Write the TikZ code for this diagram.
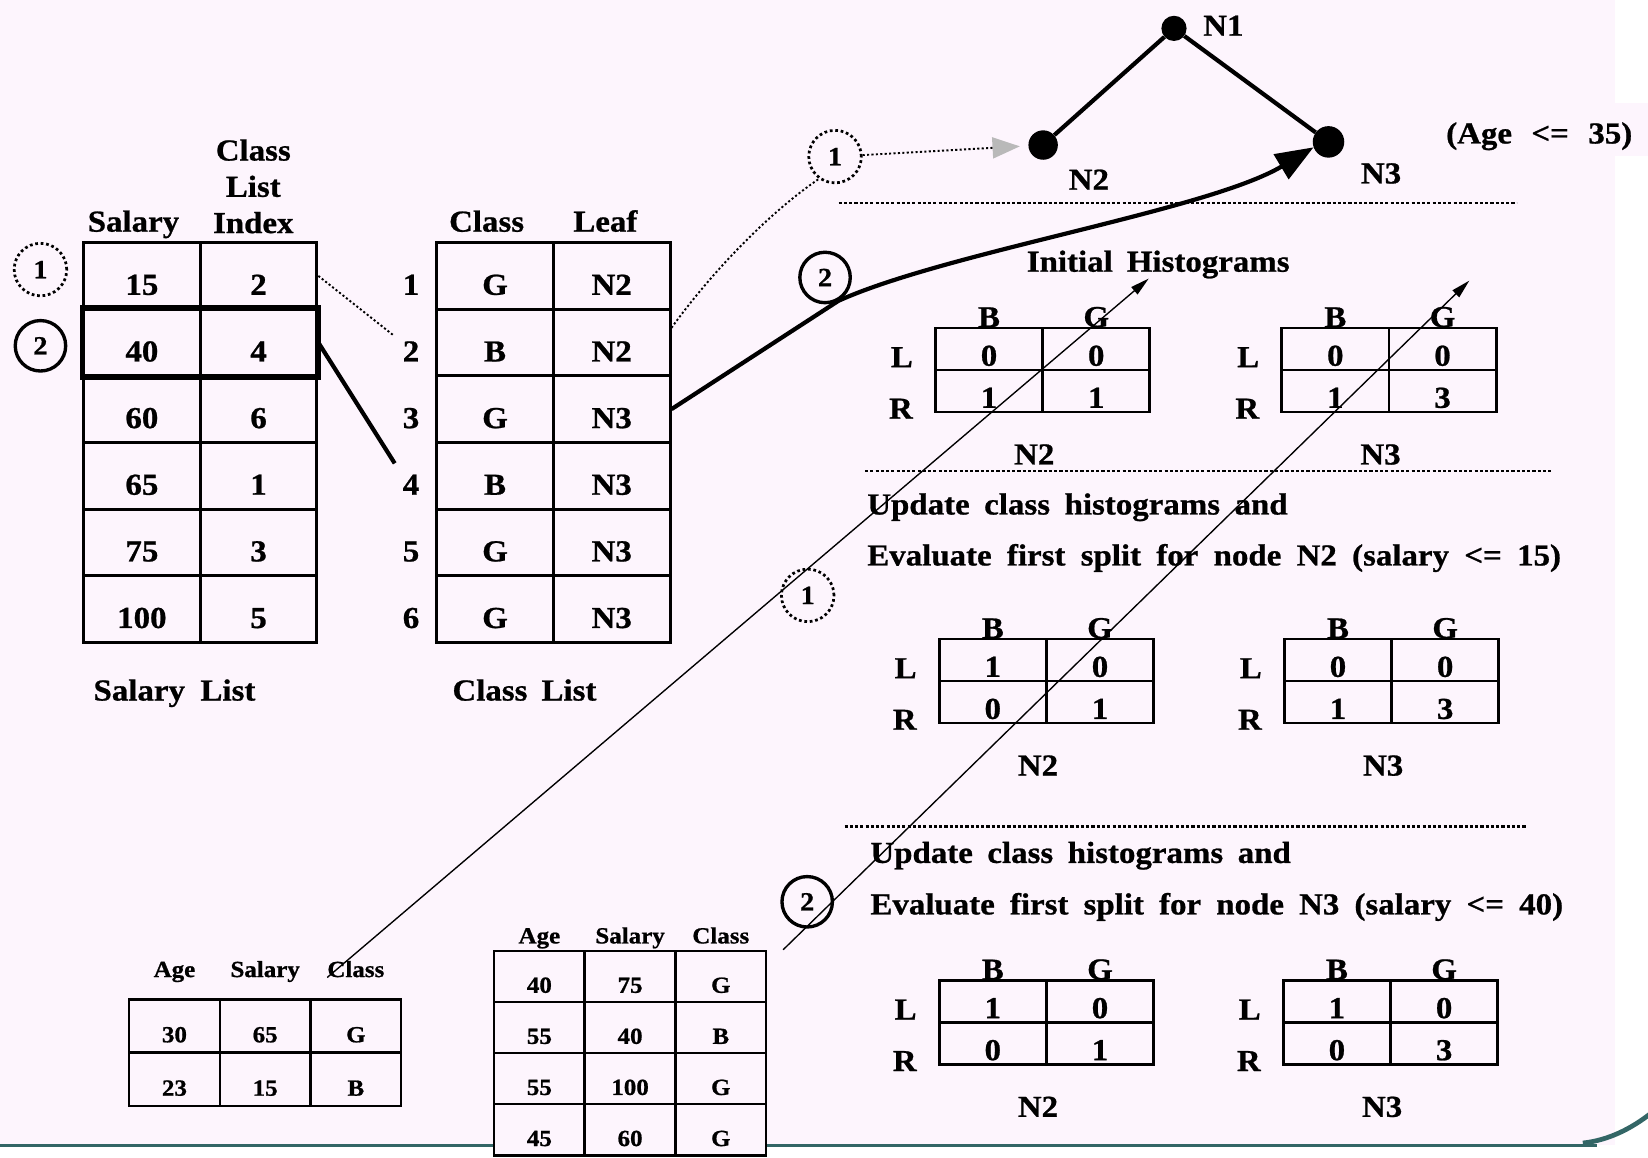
\documentclass[tikz,border=0pt]{standalone}
\usepackage{fontspec}
\setmainfont{Liberation Serif}[FakeStretch=1.08, BoldFeatures={FakeBold=0.8}]
\usetikzlibrary{arrows.meta,matrix,positioning}

\definecolor{slidepink}{RGB}{253,245,253}
\definecolor{slideteal}{RGB}{51,102,102}

\tikzset{
  txt/.style={font=\bfseries\fontsize{29}{34.5}\selectfont, inner sep=0pt},
  sml/.style={font=\bfseries\fontsize{22}{27}\selectfont, inner sep=0pt},
  num/.style={txt, text height=36pt, text depth=0pt},
  cell/.style={num, draw, line width=2.8pt, minimum width=111pt, minimum height=63.4pt},
  lst/.style={matrix of nodes, nodes={cell}, column sep=-2.8pt, row sep=-2.8pt, inner sep=0pt},
  hcell/.style={txt, draw, line width=2.6pt, minimum width=102pt, minimum height=40pt, text height=32pt, text depth=0pt},
  hist/.style={matrix of nodes, nodes={hcell}, column sep=-2.6pt, row sep=-2.6pt, inner sep=0pt},
  bcell/.style={sml, draw, fill=slidepink, line width=2.4pt, minimum width=86.3pt, minimum height=50.8pt, text height=31pt, text depth=0pt},
  part/.style={matrix of nodes, nodes={bcell}, column sep=-2.4pt, row sep=-2.4pt, inner sep=0pt},
  passone/.style={txt, font=\bfseries\fontsize{25}{30}\selectfont, circle, draw, line width=2.6pt, dash pattern=on 2.6pt off 2.6pt, minimum size=50pt},
  passtwo/.style={txt, font=\bfseries\fontsize{25}{30}\selectfont, circle, draw, line width=3.2pt, minimum size=48pt},
  dot/.style={circle, fill, inner sep=0pt},
  sepline/.style={line width=2.2pt, dash pattern=on 3pt off 2pt},
  dotlink/.style={line width=1.8pt, dash pattern=on 2pt off 2.2pt},
  link/.style={line width=1.3pt, -{Triangle[length=18pt,width=9pt]}},
}

\begin{document}
\begin{tikzpicture}[x=1pt, y=-1pt]
  \useasboundingbox (0,0) rectangle (1568,1101);
  \fill[slidepink] (0,0) rectangle (1536.5,1089);
  \fill[slidepink] (1536,98) rectangle (1568,148);
  \draw[slideteal, line width=3pt] (0,1089.5) -- (1519,1089.5);
  \draw[slideteal, line width=4.5pt] (1506,1087.5) .. controls (1530,1085) and (1552,1074) .. (1571,1059);

  \matrix[lst] (sal) at (190.5,421) {15 & 2\\ 40 & 4\\ 60 & 6\\ 65 & 1\\ 75 & 3\\ 100 & 5\\};
  \draw[line width=4.5pt] (sal-2-1.north west) rectangle (sal-2-2.south east);
  \node[txt, anchor=base] (sal-h1) at ([xshift=-8pt,yshift=9pt]sal-1-1.north) {Salary};
  \node[txt, anchor=north, align=center] (sal-h2) at ([xshift=-5pt,yshift=97pt]sal-1-2.north) {Class\\List\\Index};
  \node[txt, anchor=base] (sal-cap) at (166,666.5) {\makebox[154pt][s]{Salary List}};
  \node[passone] (p1-list) at (38.5,256.5) {1};
  \node[passtwo] (p2-list) at (38.5,329) {2};

  \matrix[lst] (cls) at (526.5,421) {G & N2\\ B & N2\\ G & N3\\ B & N3\\ G & N3\\ G & N3\\};
  \node[txt, anchor=base] (cls-h1) at ([xshift=-8pt,yshift=9pt]cls-1-1.north) {Class};
  \node[txt, anchor=base] (cls-h2) at ([xshift=-6pt,yshift=9pt]cls-1-2.north) {Leaf};
  \node[txt, anchor=base] (cls-cap) at (499,666.5) {\makebox[137pt][s]{Class List}};
  \node[num, left=15pt of cls-1-1] (row1) {1};
  \node[num, left=15pt of cls-2-1] (row2) {2};
  \node[num, left=15pt of cls-3-1] (row3) {3};
  \node[num, left=15pt of cls-4-1] (row4) {4};
  \node[num, left=15pt of cls-5-1] (row5) {5};
  \node[num, left=15pt of cls-6-1] (row6) {6};
  \draw[dotlink, shorten >=12pt] (sal-1-2.east) -- (row2.west);
  \draw[line width=4pt, shorten >=14pt] (sal-2-2.east) -- (row4.west);

  \node[dot, minimum size=24pt] (n1) at (1117,27) {};
  \node[dot, minimum size=28pt] (n2) at (992.5,138) {};
  \node[dot, minimum size=30pt] (n3) at (1264,135) {};
  \draw[line width=4pt] (n2) -- (n1) -- (n3);
  \node[txt, anchor=base] (n1-lab) at (1164,34) {N1};
  \node[txt, anchor=base] (n2-lab) at (1036,180.5) {N2};
  \node[txt, anchor=base] (n3-lab) at (1314,174.5) {N3};
  \node[txt, anchor=base] (split) at (1464.5,136.5) {\makebox[177pt][s]{(Age <= 35)}};

  \node[passone] (p1-tree) at (794.5,149) {1};
  \node[passtwo] (p2-tree) at (785,264) {2};
  \draw[dotlink] ([yshift=14pt]cls-2-2.east) .. controls (680,255) and (735,200) .. (p1-tree.234);
  \draw[dotlink, shorten >=8pt, -{Triangle[length=26pt,width=20pt,color=gray!55]}] (p1-tree) -- (n2);
  \draw[line width=4pt, -{Triangle[length=36pt,width=27pt]}] (cls-3-2.east) -- (p2-tree.300) .. controls (900,240) and (1150,200) .. (n3.200);

  \draw[sepline] (798,193) -- (1443,193);
  \node[txt, anchor=base] (ini-title) at (1102,258.5) {\makebox[250pt][s]{Initial Histograms}};
  \matrix[hist] (ini-n2) at (992,352) {0 & 0\\ 1 & 1\\};
  \node[txt, anchor=south] (ini-n2-b) at ([yshift=-1pt]ini-n2-1-1.north) {B};
  \node[txt, anchor=south] (ini-n2-g) at ([yshift=-1pt]ini-n2-1-2.north) {G};
  \node[txt, anchor=base east] (ini-n2-l) at ([xshift=-20pt,yshift=4pt]ini-n2-1-1.south west) {L};
  \node[txt, anchor=base east] (ini-n2-r) at ([xshift=-20pt,yshift=-5pt]ini-n2-2-1.south west) {R};
  \node[txt, below=29pt of ini-n2, xshift=-8pt] (ini-n2-name) {N2};
  \matrix[hist] (ini-n3) at (1321.5,352) {0 & 0\\ 1 & 3\\};
  \node[txt, anchor=south] (ini-n3-b) at ([yshift=-1pt]ini-n3-1-1.north) {B};
  \node[txt, anchor=south] (ini-n3-g) at ([yshift=-1pt]ini-n3-1-2.north) {G};
  \node[txt, anchor=base east] (ini-n3-l) at ([xshift=-20pt,yshift=4pt]ini-n3-1-1.south west) {L};
  \node[txt, anchor=base east] (ini-n3-r) at ([xshift=-20pt,yshift=-5pt]ini-n3-2-1.south west) {R};
  \node[txt, below=29pt of ini-n3, xshift=-8pt] (ini-n3-name) {N3};

  \draw[sepline] (823,448) -- (1476,448);
  \node[txt, anchor=base west] (up1-a) at (825,489.5) {\makebox[400pt][s]{Update class histograms and}};
  \node[txt, anchor=base west] (up1-b) at (825,538) {\makebox[660pt][s]{Evaluate first split for node N2 (salary <= 15)}};
  \node[passone] (p1-hist) at (768.5,566.5) {1};
  \matrix[hist] (up1-n2) at (995.6,648) {1 & 0\\ 0 & 1\\};
  \node[txt, anchor=south] (up1-n2-b) at ([yshift=-1pt]up1-n2-1-1.north) {B};
  \node[txt, anchor=south] (up1-n2-g) at ([yshift=-1pt]up1-n2-1-2.north) {G};
  \node[txt, anchor=base east] (up1-n2-l) at ([xshift=-20pt,yshift=4pt]up1-n2-1-1.south west) {L};
  \node[txt, anchor=base east] (up1-n2-r) at ([xshift=-20pt,yshift=-5pt]up1-n2-2-1.south west) {R};
  \node[txt, below=29pt of up1-n2, xshift=-8pt] (up1-n2-name) {N2};
  \matrix[hist] (up1-n3) at (1324,648) {0 & 0\\ 1 & 3\\};
  \node[txt, anchor=south] (up1-n3-b) at ([yshift=-1pt]up1-n3-1-1.north) {B};
  \node[txt, anchor=south] (up1-n3-g) at ([yshift=-1pt]up1-n3-1-2.north) {G};
  \node[txt, anchor=base east] (up1-n3-l) at ([xshift=-20pt,yshift=4pt]up1-n3-1-1.south west) {L};
  \node[txt, anchor=base east] (up1-n3-r) at ([xshift=-20pt,yshift=-5pt]up1-n3-2-1.south west) {R};
  \node[txt, below=29pt of up1-n3, xshift=-8pt] (up1-n3-name) {N3};

  \draw[sepline] (803.5,786.5) -- (1452,786.5);
  \node[txt, anchor=base west] (up2-a) at (828,821) {\makebox[400pt][s]{Update class histograms and}};
  \node[txt, anchor=base west] (up2-b) at (828,870) {\makebox[659pt][s]{Evaluate first split for node N3 (salary <= 40)}};
  \node[passtwo] (p2-hist) at (768,858) {2};
  \matrix[hist] (up2-n2) at (995.6,972.7) {1 & 0\\ 0 & 1\\};
  \node[txt, anchor=south] (up2-n2-b) at ([yshift=-1pt]up2-n2-1-1.north) {B};
  \node[txt, anchor=south] (up2-n2-g) at ([yshift=-1pt]up2-n2-1-2.north) {G};
  \node[txt, anchor=base east] (up2-n2-l) at ([xshift=-20pt,yshift=4pt]up2-n2-1-1.south west) {L};
  \node[txt, anchor=base east] (up2-n2-r) at ([xshift=-20pt,yshift=-5pt]up2-n2-2-1.south west) {R};
  \node[txt, below=29pt of up2-n2, xshift=-8pt] (up2-n2-name) {N2};
  \matrix[hist] (up2-n3) at (1323,972.7) {1 & 0\\ 0 & 3\\};
  \node[txt, anchor=south] (up2-n3-b) at ([yshift=-1pt]up2-n3-1-1.north) {B};
  \node[txt, anchor=south] (up2-n3-g) at ([yshift=-1pt]up2-n3-1-2.north) {G};
  \node[txt, anchor=base east] (up2-n3-l) at ([xshift=-20pt,yshift=4pt]up2-n3-1-1.south west) {L};
  \node[txt, anchor=base east] (up2-n3-r) at ([xshift=-20pt,yshift=-5pt]up2-n3-2-1.south west) {R};
  \node[txt, below=29pt of up2-n3, xshift=-8pt] (up2-n3-name) {N3};

  \matrix[part] (part-l) at (252.3,1001.6) {30 & 65 & G\\ 23 & 15 & B\\};
  \node[sml, anchor=base] (part-l-age) at ([yshift=20pt]part-l-1-1.north) {Age};
  \node[sml, anchor=base] (part-l-sal) at ([yshift=20pt]part-l-1-2.north) {Salary};
  \node[sml, anchor=base] (part-l-cls) at ([yshift=20pt]part-l-1-3.north) {Class};
  \matrix[part, nodes={minimum height=48.6pt}] (part-r) at (599.5,1002) {40 & 75 & G\\ 55 & 40 & B\\ 55 & 100 & G\\ 45 & 60 & G\\};
  \node[sml, anchor=base] (part-r-age) at ([yshift=6pt]part-r-1-1.north) {Age};
  \node[sml, anchor=base] (part-r-sal) at ([yshift=6pt]part-r-1-2.north) {Salary};
  \node[sml, anchor=base] (part-r-cls) at ([yshift=6pt]part-r-1-3.north) {Class};

  \coordinate (tip-a) at (1093,265);
  \coordinate (tip-b) at (1398,267);
  \draw[link] (part-l-cls.south west) -- (tip-a);
  \draw[link] ([xshift=15pt]part-r-1-3.north east) -- (tip-b);
\end{tikzpicture}
\end{document}
